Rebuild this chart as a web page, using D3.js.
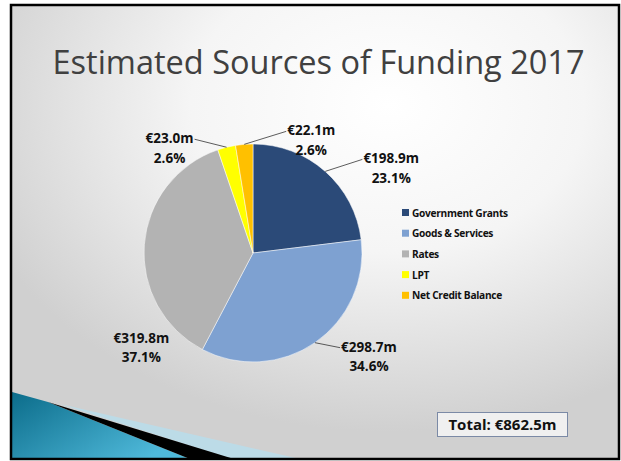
<!DOCTYPE html>
<html>
<head>
<meta charset="utf-8">
<script src="https://cdn.jsdelivr.net/npm/d3@7"></script>
<style>
  body { margin: 0; background: #fff; }
  text { font-family: "Open Sans", sans-serif; }
</style>
</head>
<body>
<div id="chart"></div>
<script>
// chart values
var categories = ["Government Grants", "Goods & Services", "Rates", "LPT", "Net Credit Balance"];
var amounts = [198.9, 298.7, 319.8, 23.0, 22.1];
var percents = ["23.1%", "34.6%", "37.1%", "2.6%", "2.6%"];
var amountLabels = ["€198.9m", "€298.7m", "€319.8m", "€23.0m", "€22.1m"];
var colors = ["#2b4a78", "#7ea1d1", "#b3b3b3", "#ffff00", "#ffc000"];
var titleText = "Estimated Sources of Funding 2017";
var totalText = "Total: €862.5m";

// label placement relative to the slice edge (layout only)
var labelOffsets = [
  {dx: 66, dy: -8, leader: true},
  {dx: 54, dy: 9, leader: true},
  {dx: -3, dy: 98, leader: false},
  {dx: -57, dy: -4, leader: true},
  {dx: 67, dy: -9, leader: true}
];

var svgWidth = 621;
var svgHeight = 461;

var svg = d3.select("#chart")
  .append("svg")
  .attr("width", svgWidth)
  .attr("height", svgHeight);

var defs = svg.append("defs");

// slide background
var bg = defs.append("radialGradient")
  .attr("id", "bgGrad")
  .attr("cx", "62%").attr("cy", "22%").attr("r", "72%");
bg.append("stop").attr("offset", "0%").attr("stop-color", "#ffffff");
bg.append("stop").attr("offset", "45%").attr("stop-color", "#f5f5f5");
bg.append("stop").attr("offset", "100%").attr("stop-color", "#d0d0d0");

var teal = defs.append("linearGradient")
  .attr("id", "tealGrad")
  .attr("x1", "0%").attr("y1", "0%").attr("x2", "100%").attr("y2", "60%");
teal.append("stop").attr("offset", "0%").attr("stop-color", "#0b6c8a");
teal.append("stop").attr("offset", "100%").attr("stop-color", "#4fb9da");

svg.append("rect")
  .attr("x", 11).attr("y", 5)
  .attr("width", 608).attr("height", 454)
  .attr("fill", "url(#bgGrad)");

// bottom-left decoration
svg.append("path")
  .attr("d", "M60,404 L300,459 L232,459 Z")
  .attr("fill", "#bcdbe7");
svg.append("path")
  .attr("d", "M12,392 L48,402 L190,459 L12,459 Z")
  .attr("fill", "url(#tealGrad)");
svg.append("path")
  .attr("d", "M48,402 L234,459 L190,459 Z")
  .attr("fill", "#000");

svg.append("rect")
  .attr("x", 11).attr("y", 5)
  .attr("width", 608).attr("height", 454)
  .attr("fill", "none")
  .attr("stroke", "#000")
  .attr("stroke-width", 2.5);

// title
svg.append("text")
  .attr("x", 318.5)
  .attr("y", 74)
  .attr("text-anchor", "middle")
  .attr("font-size", 32.5)
  .attr("fill", "#404040")
  .text(titleText);

// pie
var cx = 253, cy = 253, radius = 109;
var data = categories.map(function(c, i) {
  return {name: c, value: amounts[i], pct: percents[i], amt: amountLabels[i], color: colors[i], i: i};
});

var pie = d3.pie().sort(null).value(function(d) { return d.value; });
var arc = d3.arc().innerRadius(0).outerRadius(radius);
var edgeArc = d3.arc().innerRadius(radius).outerRadius(radius);

var g = svg.append("g").attr("transform", "translate(" + cx + "," + cy + ")");
var arcs = pie(data);

g.selectAll("path.slice")
  .data(arcs)
  .enter()
  .append("path")
  .attr("class", "slice")
  .attr("d", arc)
  .attr("fill", function(d) { return d.data.color; })
  .attr("stroke", "#ffffff")
  .attr("stroke-width", 0.5);

// data labels
arcs.forEach(function(d, i) {
  var edge = edgeArc.centroid(d);
  var off = labelOffsets[i];
  var lx = edge[0] + off.dx;
  var ly = edge[1] + off.dy;

  var t1 = g.append("text")
    .attr("x", lx).attr("y", ly)
    .attr("text-anchor", "middle")
    .attr("font-size", 13.5)
    .attr("font-weight", "bold")
    .attr("fill", "#111")
    .text(d.data.amt);
  g.append("text")
    .attr("x", lx).attr("y", ly + 19.5)
    .attr("text-anchor", "middle")
    .attr("font-size", 13.5)
    .attr("font-weight", "bold")
    .attr("fill", "#111")
    .text(d.data.pct);

  if (off.leader) {
    var w = t1.node().getComputedTextLength();
    var ex = lx > edge[0] ? lx - w / 2 - 1 : lx + w / 2 + 1;
    g.append("line")
      .attr("x1", edge[0]).attr("y1", edge[1])
      .attr("x2", ex).attr("y2", ly - 4)
      .attr("stroke", "#333")
      .attr("stroke-width", 0.8);
  }
});

// legend
var legend = svg.append("g").attr("transform", "translate(402,209)");
var rows = legend.selectAll("g")
  .data(data)
  .enter()
  .append("g")
  .attr("transform", function(d, i) { return "translate(0," + (i * 20.7) + ")"; });
rows.append("rect")
  .attr("width", 7).attr("height", 7)
  .attr("fill", function(d) { return d.color; });
rows.append("text")
  .attr("x", 10).attr("y", 7.5)
  .attr("font-size", 10.2)
  .attr("font-weight", "bold")
  .attr("letter-spacing", -0.3)
  .attr("fill", "#111")
  .text(function(d) { return d.name; });

// total box
svg.append("rect")
  .attr("x", 437.5).attr("y", 412.5)
  .attr("width", 130).attr("height", 24)
  .attr("fill", "#f0f0f0")
  .attr("stroke", "#7b8aa6")
  .attr("stroke-width", 1);
svg.append("text")
  .attr("x", 502.5).attr("y", 430)
  .attr("text-anchor", "middle")
  .attr("font-size", 15)
  .attr("font-weight", "bold")
  .attr("fill", "#111")
  .text(totalText);
</script>
</body>
</html>
